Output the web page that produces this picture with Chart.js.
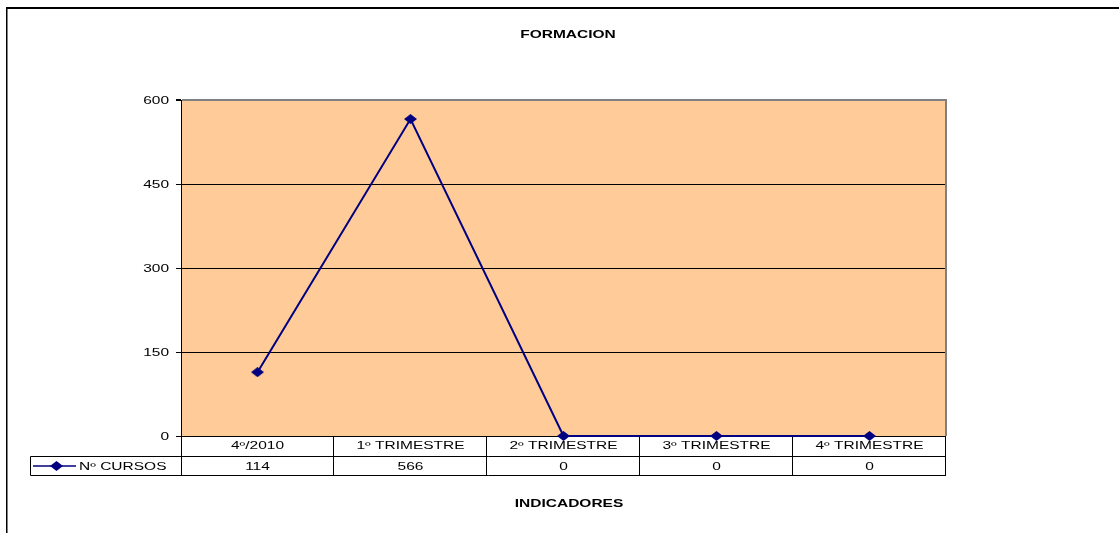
<!DOCTYPE html>
<html>
<head>
<meta charset="utf-8">
<script src="https://cdn.jsdelivr.net/npm/chart.js@4/dist/chart.umd.min.js"></script>
<style>
html,body{margin:0;padding:0;background:#fff;}
canvas{display:block;}
</style>
</head>
<body>
<canvas id="c" width="1119" height="533"></canvas>
<script>
const chartTitle = 'FORMACION';
const axisTitle = 'INDICADORES';
const categories = ['4º/2010', '1º TRIMESTRE', '2º TRIMESTRE', '3º TRIMESTRE', '4º TRIMESTRE'];
const seriesLabel = 'Nº CURSOS';
const seriesValues = [114, 566, 0, 0, 0];
const yTicks = [0, 150, 300, 450, 600];

const NAVY = '#000080';
const SX = 1.55;
const FONT = '"Liberation Sans", Arial, sans-serif';

// stretched diamond marker
const diamond = document.createElement('canvas');
diamond.width = 13; diamond.height = 10;
(function(){
  const d = diamond.getContext('2d');
  d.fillStyle = NAVY;
  d.beginPath();
  d.moveTo(6.5, 0); d.lineTo(13, 5); d.lineTo(6.5, 10); d.lineTo(0, 5); d.closePath();
  d.fill();
})();

function txt(ctx, s, x, y, align, bold) {
  ctx.save();
  ctx.font = (bold ? 'bold ' : '') + '10px ' + FONT;
  const w = ctx.measureText(s).width * SX;
  const x0 = align === 'center' ? x - w / 2 : (align === 'right' ? x - w : x);
  ctx.translate(x0, y);
  ctx.scale(SX, 1);
  ctx.textAlign = 'left';
  ctx.textBaseline = 'alphabetic';
  ctx.fillStyle = '#000';
  ctx.fillText(s, 0, 0);
  ctx.restore();
}

const decor = {
  id: 'decor',
  beforeDraw(chart) {
    const ctx = chart.ctx, a = chart.chartArea;
    ctx.save();
    ctx.fillStyle = '#fff';
    ctx.fillRect(0, 0, chart.width, chart.height);
    // outer chart border (continues beyond the view)
    ctx.fillStyle = '#000';
    ctx.fillRect(6, 7, chart.width - 6, 2);
    ctx.fillRect(6, 7, 1.5, chart.height - 7);
    // plot area
    ctx.fillStyle = '#FFCC99';
    ctx.fillRect(a.left, a.top, a.right - a.left, a.bottom - a.top);
    ctx.restore();
  },
  beforeDatasetsDraw(chart) {
    const ctx = chart.ctx, a = chart.chartArea;
    const xs = chart.scales.x, ys = chart.scales.y;
    ctx.save();
    // right border of plot area
    ctx.fillStyle = '#808080';
    ctx.fillRect(a.right - 1, a.top - 1, 2, a.bottom - a.top + 1);

    // y tick labels
    ys.ticks.forEach(t => {
      const py = ys.getPixelForValue(t.value);
      txt(ctx, String(t.value), 169, py + 4, 'right', false);
    });

    // data table
    const half = (xs.getPixelForValue(1) - xs.getPixelForValue(0)) / 2;
    const r0 = a.bottom, r1 = a.bottom + 20.5, r2 = a.bottom + 39.5;
    const legL = 30.5;
    ctx.strokeStyle = '#000';
    ctx.lineWidth = 1;
    ctx.beginPath();
    ctx.moveTo(legL, r1); ctx.lineTo(a.right, r1);
    ctx.moveTo(legL, r2); ctx.lineTo(a.right, r2);
    ctx.moveTo(legL, r1); ctx.lineTo(legL, r2);
    ctx.moveTo(a.left + 0.5, r0); ctx.lineTo(a.left + 0.5, r2);
    for (let i = 0; i < categories.length; i++) {
      const e = Math.round(xs.getPixelForValue(i) + half) - 0.5;
      ctx.moveTo(e, r0); ctx.lineTo(e, r2);
    }
    ctx.stroke();

    categories.forEach((c, i) => {
      const cx = xs.getPixelForValue(i);
      txt(ctx, c, cx, r0 + 12.5, 'center', false);
      txt(ctx, String(seriesValues[i]), cx, r0 + 34, 'center', false);
    });

    // legend key
    const ly = (r1 + r2) / 2;
    ctx.strokeStyle = NAVY;
    ctx.lineWidth = 1.5;
    ctx.beginPath();
    ctx.moveTo(33, ly); ctx.lineTo(76, ly);
    ctx.stroke();
    ctx.drawImage(diamond, 56.5 - 6.5, ly - 5);
    txt(ctx, seriesLabel, 79, r0 + 34, 'left', false);

    // titles
    txt(ctx, chartTitle, 568, 38, 'center', true);
    txt(ctx, axisTitle, 569, 507, 'center', true);
    ctx.restore();
  }
};

new Chart(document.getElementById('c'), {
  type: 'line',
  data: {
    labels: categories,
    datasets: [{
      label: seriesLabel,
      data: seriesValues,
      borderColor: NAVY,
      backgroundColor: NAVY,
      borderWidth: 2,
      pointStyle: diamond,
      pointRadius: 6,
      pointHoverRadius: 6,
      tension: 0,
      clip: false,
      fill: false
    }]
  },
  options: {
    responsive: false,
    animation: false,
    devicePixelRatio: 1,
    events: [],
    layout: { padding: { left: 0, right: 173, top: 100, bottom: 97 } },
    plugins: {
      legend: { display: false },
      title: { display: false },
      tooltip: { enabled: false }
    },
    scales: {
      x: {
        type: 'category',
        offset: true,
        display: false
      },
      y: {
        min: 0,
        max: 600,
        afterBuildTicks: s => { s.ticks = yTicks.map(v => ({ value: v })); },
        afterFit: s => { s.width = 181; },
        ticks: { display: false },
        grid: {
          color: c => (c.tick && c.tick.value === 600) ? '#808080' : '#000',
          lineWidth: c => (c.tick && c.tick.value === 600) ? 2 : 1,
          drawTicks: true,
          tickLength: 5,
          tickColor: '#000'
        },
        border: { display: true, color: '#000', width: 1 }
      }
    }
  },
  plugins: [decor]
});
</script>
</body>
</html>
